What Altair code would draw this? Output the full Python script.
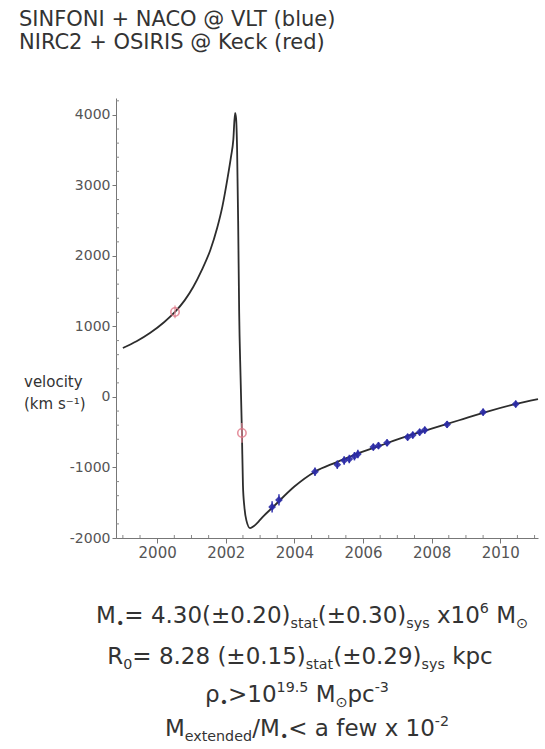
import altair as alt
import pandas as pd

# ---------------- data ----------------
curve_year = [1999.0, 1999.4, 1999.8, 2000.2, 2000.52, 2000.8, 2001.05, 2001.3, 2001.55,
              2001.75, 2001.9, 2002.05, 2002.15, 2002.22, 2002.27, 2002.30, 2002.33, 2002.36,
              2002.39, 2002.43, 2002.47, 2002.50, 2002.54, 2002.60, 2002.71, 2002.82, 2002.95,
              2003.1, 2003.4, 2004.0, 2004.6, 2005.2, 2005.8, 2006.5, 2007.2, 2008.0, 2008.8,
              2009.6, 2010.4, 2011.1]
curve_vel = [695, 790, 910, 1060, 1206, 1370, 1560, 1800, 2085,
             2400, 2700, 3100, 3400, 3650, 4030, 3950, 3500, 2500,
             1200, 300, -500, -1250, -1550, -1750, -1860, -1830, -1770,
             -1690, -1550, -1270, -1060, -930, -810, -690, -570, -450, -330,
             -210, -105, -30]

blue_year = [2003.35, 2003.55, 2004.6, 2005.25, 2005.45, 2005.6, 2005.75, 2005.85,
             2006.3, 2006.45, 2006.7, 2007.3, 2007.45, 2007.65, 2007.8, 2008.45,
             2009.5, 2010.45]
blue_vel = [-1560, -1460, -1060, -960, -900, -880, -840, -810,
            -710, -690, -650, -570, -540, -500, -470, -390,
            -215, -100]
blue_err = [80, 80, 60, 60, 60, 60, 60, 60, 50, 50, 50, 50, 50, 50, 50, 50, 50, 50]

red_year = [2000.52, 2002.47]
red_vel = [1206, -510]
red_err = [90, 140]

x_major = [2000, 2002, 2004, 2006, 2008, 2010]
y_major = [-2000, -1000, 0, 1000, 2000, 3000, 4000]
x_minor = [1999.0, 1999.5, 2000.5, 2001.0, 2001.5, 2002.5, 2003.0, 2003.5, 2004.5, 2005.0,
           2005.5, 2006.5, 2007.0, 2007.5, 2008.5, 2009.0, 2009.5, 2010.5, 2011.0]
y_minor = [-1800, -1600, -1400, -1200, -800, -600, -400, -200, 200, 400, 600, 800,
           1200, 1400, 1600, 1800, 2200, 2400, 2600, 2800, 3200, 3400, 3600, 3800, 4200]

title_lines = ["SINFONI + NACO @ VLT (blue)", "NIRC2 + OSIRIS @ Keck (red)"]
ytitle_lines = ["velocity", "(km s⁻¹)"]
result_lines = [
    [("M", "n"), ("•", "sub"), ("= 4.30(±0.20)", "n"), ("stat", "sub"), ("(±0.30)", "n"),
     ("sys", "sub"), (" x10", "n"), ("6", "sup"), (" M", "n"), ("⊙", "sub")],
    [("R", "n"), ("0", "sub"), ("= 8.28 (±0.15)", "n"), ("stat", "sub"), ("(±0.29)", "n"),
     ("sys", "sub"), (" kpc", "n")],
    [("ρ", "n"), ("•", "sub"), (">10", "n"), ("19.5", "sup"), (" M", "n"), ("⊙", "sub"),
     ("pc", "n"), ("-3", "sup")],
    [("M", "n"), ("extended", "sub"), ("/M", "n"), ("•", "sub"), ("< a few x 10", "n"),
     ("-2", "sup")],
]

# ---------------- layout ----------------
FONT = "DejaVu Sans"
LEFT, TOP = 116, 98
W, H = 422, 440
XDOM = [1998.8, 2011.1]
YDOM = [-2000, 4240]

# approximate DejaVu Sans advance widths (per 1000 em) for placing segmented text
CW = {" ": 318, "(": 390, ")": 390, "+": 838, ".": 318, "/": 337, "-": 361,
      "<": 838, "=": 838, ">": 838, "±": 838, "•": 590, "ρ": 635, "⊙": 838, "M": 863,
      "R": 695, "a": 613, "c": 550, "d": 635, "e": 615, "f": 352, "k": 579, "n": 634,
      "p": 635, "s": 521, "t": 392, "w": 818, "x": 592, "y": 592}
for d in "0123456789":
    CW[d] = 636


def seg_rows(segs, cx, base, F):
    sizes = {"n": F, "sub": 0.62 * F, "sup": 0.62 * F}
    shifts = {"n": 0, "sub": 0.22 * F, "sup": -0.42 * F}
    widths = [sum(CW.get(c, 600) for c in t) * sizes[k] / 1000 for t, k in segs]
    x = cx - sum(widths) / 2
    rows = []
    for (t, k), w in zip(segs, widths):
        lead = len(t) - len(t.lstrip(" "))
        rows.append({"px": x + lead * CW[" "] * sizes[k] / 1000 - LEFT,
                     "py": base + shifts[k] - TOP, "txt": t.strip(" "), "fs": sizes[k]})
        x += w
    return rows


text_rows = []
centers = [312, 300, 297, 307]
baselines = [623, 664, 702, 736]
for segs, cx, b in zip(result_lines, centers, baselines):
    text_rows += seg_rows(segs, cx, b, 23)
for line, b in zip(title_lines, [26, 49]):
    text_rows.append({"px": 19 - LEFT, "py": b - TOP, "txt": line, "fs": 21})
for line, b in zip(ytitle_lines, [387, 409]):
    text_rows.append({"px": 24 - LEFT, "py": b - TOP, "txt": line, "fs": 15})
text_df = pd.DataFrame(text_rows)

curve_df = pd.DataFrame({"year": curve_year, "vel": curve_vel})
blue_df = pd.DataFrame({"year": blue_year, "vel": blue_vel, "err": blue_err})
blue_df["lo"] = blue_df["vel"] - blue_df["err"]
blue_df["hi"] = blue_df["vel"] + blue_df["err"]
red_df = pd.DataFrame({"year": red_year, "vel": red_vel, "err": red_err})
red_df["lo"] = red_df["vel"] - red_df["err"]
red_df["hi"] = red_df["vel"] + red_df["err"]

xs = alt.Scale(domain=XDOM, nice=False, zero=False)
ys = alt.Scale(domain=YDOM, nice=False, zero=False)

xaxis = alt.Axis(values=x_major, format="d", title=None, grid=False, tickSize=5,
                 labelFontSize=15, labelFont=FONT, labelColor="#555", labelPadding=2,
                 domainColor="#777", tickColor="#777", labelFlush=False)
yaxis = alt.Axis(values=y_major, format="d", title=None, grid=False, tickSize=4,
                 labelFontSize=14, labelFont=FONT, labelColor="#555", labelPadding=2,
                 domainColor="#777", tickColor="#777", labelFlush=False,
                 labelExpr="replace(datum.label, '−', '-')")

curve = alt.Chart(curve_df).mark_line(color="#2d2d2d", strokeWidth=1.8,
                                      interpolate="monotone").encode(
    x=alt.X("year:Q", scale=xs, axis=xaxis),
    y=alt.Y("vel:Q", scale=ys, axis=yaxis),
)

xminor = alt.Chart(pd.DataFrame({"m": x_minor})).mark_rule(color="#888", strokeWidth=1).encode(
    x=alt.X("m:Q", scale=xs), y=alt.value(H), y2=alt.value(H - 3))
yminor = alt.Chart(pd.DataFrame({"m": y_minor})).mark_rule(color="#888", strokeWidth=1).encode(
    y=alt.Y("m:Q", scale=ys), x=alt.value(0), x2=alt.value(3))

blue_err_m = alt.Chart(blue_df).mark_rule(color="#3535b0", strokeWidth=1.5).encode(
    x=alt.X("year:Q", scale=xs), y=alt.Y("lo:Q", scale=ys), y2="hi:Q")
blue_pts = alt.Chart(blue_df).mark_point(shape="diamond", filled=True, color="#2a2aa5",
                                         size=60, opacity=0.9).encode(
    x=alt.X("year:Q", scale=xs), y=alt.Y("vel:Q", scale=ys))

red_err_m = alt.Chart(red_df).mark_rule(color="#e58a98", strokeWidth=1.2).encode(
    x=alt.X("year:Q", scale=xs), y=alt.Y("lo:Q", scale=ys), y2="hi:Q")
red_pts = alt.Chart(red_df).mark_point(filled=False, color="#e07888", size=70,
                                       strokeWidth=1.6, opacity=0.8).encode(
    x=alt.X("year:Q", scale=xs), y=alt.Y("vel:Q", scale=ys))

texts = alt.Chart(text_df).mark_text(align="left", baseline="alphabetic", font=FONT,
                                     color="#333").encode(
    x=alt.X("px:Q", scale=None),
    y=alt.Y("py:Q", scale=None),
    text="txt:N",
    size=alt.Size("fs:Q", scale=None),
)

chart = alt.layer(xminor, yminor, curve, red_err_m, red_pts, blue_err_m, blue_pts, texts).properties(
    width=W, height=H,
    autosize=alt.AutoSizeParams(type="none"),
    padding={"left": LEFT, "top": TOP, "right": 545 - LEFT - W, "bottom": 749 - TOP - H},
    background="white",
).configure_view(stroke=None)

chart.save("out.html", embed_options={"renderer": "svg", "actions": False})
